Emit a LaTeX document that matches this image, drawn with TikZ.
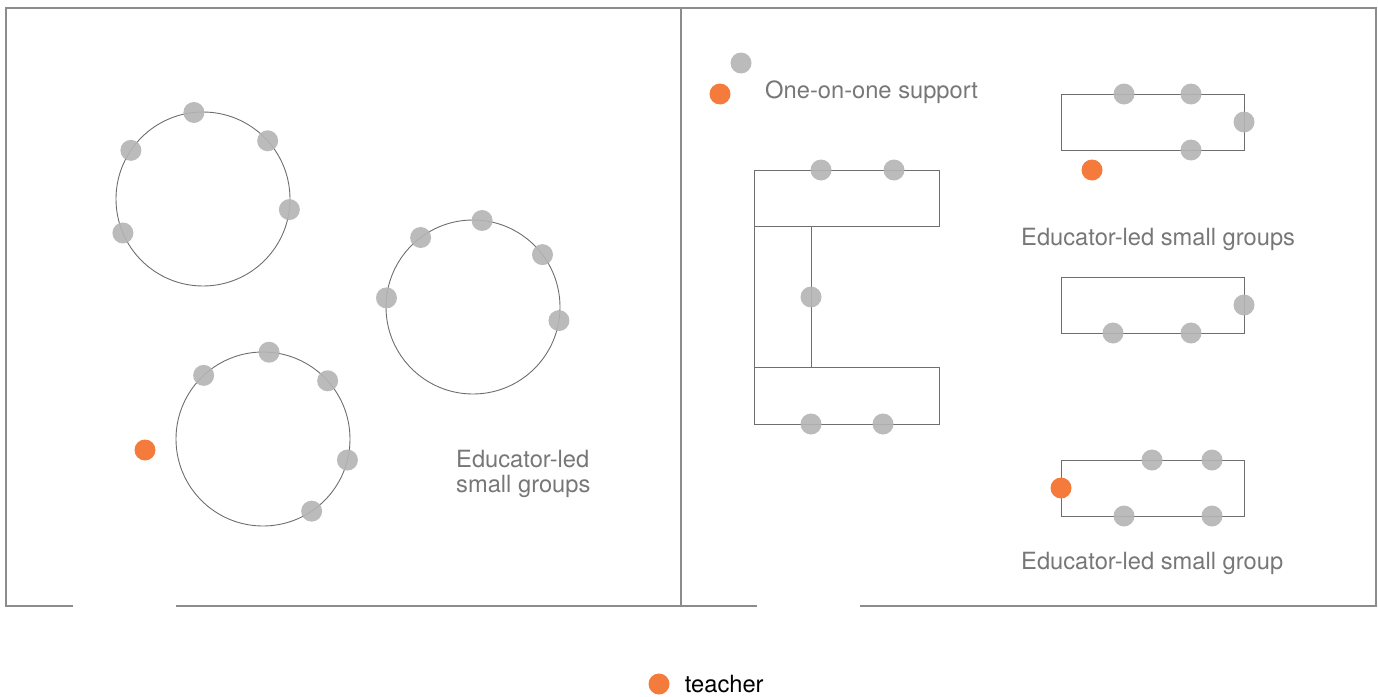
\documentclass[tikz,border=0pt]{standalone}
\usepackage{fontspec}
\setmainfont{TeX Gyre Heros}
\usepackage{tikz}
\usetikzlibrary{positioning}
\definecolor{roomgrey}{HTML}{8C8C8C}
\definecolor{roomline}{HTML}{6E6E6E}
\definecolor{roomseat}{HTML}{B4B4B4}
\definecolor{roomorange}{HTML}{F47B3B}
\definecolor{roomtext}{HTML}{777777}
\tikzset{%
  roomwall/.style={%
    draw=roomgrey,
    line width=1.3pt
  },
  roomring/.style={%
    circle,
    draw=roomline,
    line width=0.9pt,
    minimum size=174pt,
    inner sep=0pt,
    outer sep=0pt
  },
  roomtable/.style={%
    rectangle,
    draw=roomline,
    line width=0.9pt,
    minimum width=183pt,
    minimum height=56pt,
    inner sep=0pt,
    outer sep=0pt
  },
  roomstudent/.style={circle,fill=roomseat,fill opacity=0.9,minimum size=21pt,inner sep=0pt},
  roomteacher/.style={circle,fill=roomorange,minimum size=21pt,inner sep=0pt},
  roomlabel/.style={%
    text=roomtext,
    font=\fontsize{23.7}{25}\selectfont,
    inner sep=0pt,
    anchor=base west,
    align=left
  }
}

\begin{document}
\begin{tikzpicture}[x=1pt,y=-1pt]
    \useasboundingbox (0,0) rectangle (1378,696);

    % walls, with the two doorways in the bottom wall
    \draw[roomwall] (73,606) -- (6,606) -- (6,8) -- (1376,8) -- (1376,606) -- (860,606);
    \draw[roomwall] (757,606) -- (176,606);
    \draw[roomwall] (681,8) -- (681,606);

    % left room: three round tables
    \node[roomring] (ringA) at (203,199) {};
    \node[roomring] (ringB) at (473,307) {};
    \node[roomring] (ringC) at (263,439) {};
    \foreach \a [count=\i] in {96.6,42.2,-7.3,203.9,146.7}
      \node[roomstudent] (ringA-\i) at (ringA.\a) {};
    \foreach \a [count=\i] in {84,37.1,-9.1,174.1,127.4}
      \node[roomstudent] (ringB-\i) at (ringB.\a) {};
    \foreach \a [count=\i] in {86.7,42.1,-14.7,-56.9,133.2}
      \node[roomstudent] (ringC-\i) at (ringC.\a) {};
    \node[roomteacher] (teachC) at (145,450) {};
    \node[roomlabel] (groupsL) at (456,492) {Educator-led\\small groups};

    % right room: one-on-one corner
    \node[roomstudent] (oneS) at (741,63) {};
    \node[roomteacher] (oneT) at (720,94) {};
    \node[roomlabel] (oneL) at (765,98) {One-on-one support};

    % right room: U-shaped tables
    \node[roomtable,minimum width=185pt] (uTop) at (846.5,198) {};
    \node[roomtable,minimum width=57pt,minimum height=141pt] (uMid) at (782.5,296.5) {};
    \node[roomtable,minimum width=185pt,minimum height=57pt] (uBot) at (846.5,395.5) {};
    \node[roomstudent] (uS1) at (821,170) {};
    \node[roomstudent] (uS2) at (894,170) {};
    \node[roomstudent] (uS3) at (811,297) {};
    \node[roomstudent] (uS4) at (811,424) {};
    \node[roomstudent] (uS5) at (883,424) {};

    % right room: rectangular tables
    \node[roomtable] (deskA) at (1152.5,122) {};
    \node[roomstudent] (deskA-1) at (1124,94) {};
    \node[roomstudent] (deskA-2) at (1191,94) {};
    \node[roomstudent] (deskA-3) at (1244,122) {};
    \node[roomstudent] (deskA-4) at (1191,150) {};
    \node[roomteacher] (teachA) at (1092,170) {};
    \node[roomlabel] (groupsR) at (1021,245) {Educator-led small groups};

    \node[roomtable] (deskB) at (1152.5,305) {};
    \node[roomstudent] (deskB-1) at (1244,305) {};
    \node[roomstudent] (deskB-2) at (1113,333) {};
    \node[roomstudent] (deskB-3) at (1191,333) {};

    \node[roomtable] (deskC) at (1152.5,488) {};
    \node[roomstudent] (deskC-1) at (1152,460) {};
    \node[roomstudent] (deskC-2) at (1212,460) {};
    \node[roomstudent] (deskC-3) at (1124,516) {};
    \node[roomstudent] (deskC-4) at (1212,516) {};
    \node[roomteacher] (teachD) at (1061,488) {};
    \node[roomlabel] (groupR) at (1021,569) {Educator-led small group};

    % key
    \node[roomteacher] (keyDot) at (659,684) {};
    \node[roomlabel,text=black,anchor=west,right=15pt of keyDot] (keyL) {teacher};
  \end{tikzpicture}
\end{document}
